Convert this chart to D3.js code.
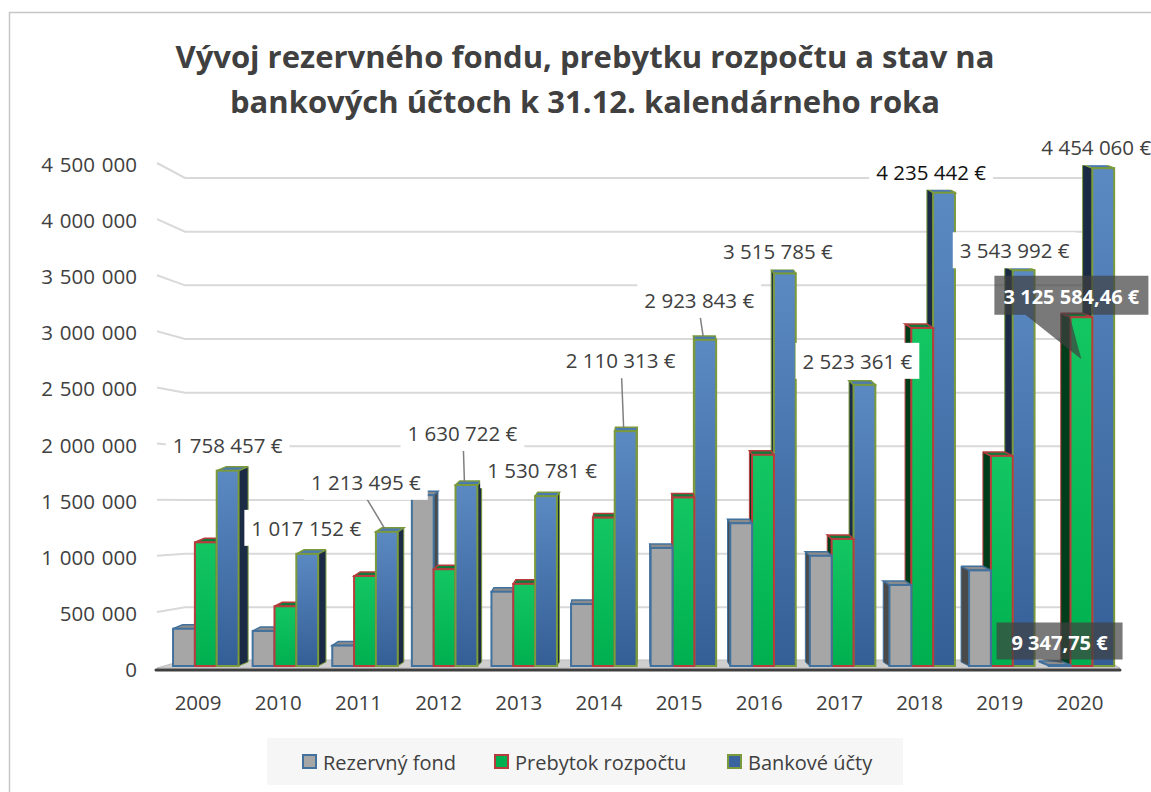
<!DOCTYPE html>
<html lang="sk">
<head>
<meta charset="utf-8">
<title>Vývoj rezervného fondu</title>
<script src="https://cdn.jsdelivr.net/npm/d3@7"></script>
<style>
  body { margin: 0; background: #fff; }
  svg { display: block; font-family: "Open Sans", sans-serif; }
</style>
</head>
<body>
<svg id="chart" width="1151" height="792"></svg>
<script>
// data
var years = ["2009", "2010", "2011", "2012", "2013", "2014", "2015", "2016", "2017", "2018", "2019", "2020"];
var rezervnyFond = [350000, 330000, 200000, 1540000, 680000, 570000, 1070000, 1290000, 1000000, 740000, 870000, 9347.75];
var prebytok = [1120000, 550000, 820000, 880000, 750000, 1340000, 1520000, 1900000, 1150000, 3030000, 1890000, 3125584.46];
var bankoveUcty = [1758457, 1017152, 1213495, 1630722, 1530781, 2110313, 2923843, 3515785, 2523361, 4235442, 3543992, 4454060];
var yTicks = [0, 500000, 1000000, 1500000, 2000000, 2500000, 3000000, 3500000, 4000000, 4500000];
var seriesNames = ["Rezervný fond", "Prebytok rozpočtu", "Bankové účty"];
var titleLines = ["Vývoj rezervného fondu, prebytku rozpočtu a stav na", "bankových účtoch k 31.12. kalendárneho roka"];

// layout of the data labels on the blue bars (offset from bar top)
var labelOffsets = [[0,-26],[-1,-26],[-21,-50],[-4,-52],[-4,-26],[-5,-71],[-6,-40],[-7,-22],[-7,-24],[-13,-21],[-9,-20],[-7,-21]];
var leaderYears = ["2011", "2012", "2014", "2015"];

var series = [rezervnyFond, prebytok, bankoveUcty];
var styles = [
  {fill: "#a6a6a6", stroke: "#41719c", side: "#4a4a4a", cap: "#8c8c8c"},
  {fill: "url(#gGreen)", stroke: "#b83c3c", side: "#003d1b", cap: "#0f7a3a"},
  {fill: "url(#gBlue)", stroke: "#7a9a3c", side: "#1c2b45", cap: "#4b79b1"}
];

var loc = d3.formatLocale({decimal: ",", thousands: " ", grouping: [3], currency: ["", " €"]});
var fmtInt = loc.format(",d");
var fmtDec = loc.format(",.2f");

var svg = d3.select("#chart");
var defs = svg.append("defs");
var gb = defs.append("linearGradient").attr("id", "gBlue").attr("x1", 0).attr("y1", 0).attr("x2", 0).attr("y2", 1);
gb.append("stop").attr("offset", 0).attr("stop-color", "#5b89c2");
gb.append("stop").attr("offset", 1).attr("stop-color", "#345e96");
var gg = defs.append("linearGradient").attr("id", "gGreen").attr("x1", 0).attr("y1", 0).attr("x2", 0).attr("y2", 1);
gg.append("stop").attr("offset", 0).attr("stop-color", "#14c662");
gg.append("stop").attr("offset", 1).attr("stop-color", "#00b050");

// outer chart border
svg.append("rect").attr("x", 9.5).attr("y", 12.5).attr("width", 1160).attr("height", 800)
  .attr("fill", "none").attr("stroke", "#c6c6c6").attr("stroke-width", 1.5);

// title
svg.append("g").selectAll("text").data(titleLines).join("text")
  .attr("x", 585).attr("y", function (d, i) { return 68 + i * 45; })
  .attr("text-anchor", "middle").attr("font-size", 31).attr("font-weight", "bold")
  .attr("fill", "#404040").text(function (d) { return d; });

// scales
var yF = d3.scaleLinear().domain([0, 4500000]).range([668, 163]);   // front (bars, tick labels)
var yB = d3.scaleLinear().domain([0, 4500000]).range([661, 178]);   // back wall (gridlines)
var xLab = d3.scaleBand().domain(years).range([158, 1120]);
var xBars = d3.scaleBand().domain(years).range([166, 1121.2]).paddingInner(0.177).paddingOuter(0.0885);
var xInner = d3.scaleBand().domain([0, 1, 2]).range([0, xBars.bandwidth()]);
var baseY = 666;

// gridlines
svg.append("g").selectAll("path").data(yTicks.slice(1)).join("path")
  .attr("d", function (v) { return "M157," + yF(v) + "L185," + yB(v) + "H1108"; })
  .attr("fill", "none").attr("stroke", "#d9d9d9").attr("stroke-width", 2);

// floor
svg.append("path").attr("d", "M157,668L185,660H1106L1120,668Z").attr("fill", "#cfcfcf").attr("stroke", "#bdbdbd");
svg.append("line").attr("x1", 156).attr("x2", 1120).attr("y1", 670).attr("y2", 670)
  .attr("stroke", "#3f3f3f").attr("stroke-width", 3).attr("stroke-linecap", "round");

// y tick labels
svg.append("g").selectAll("text").data(yTicks).join("text")
  .attr("x", 137).attr("y", function (v) { return yF(v) + 1; })
  .attr("text-anchor", "end").attr("dominant-baseline", "central")
  .attr("font-size", 20.5).attr("word-spacing", 1.5).attr("fill", "#404040")
  .text(function (v) { return fmtInt(v); });

// x labels
svg.append("g").selectAll("text").data(years).join("text")
  .attr("x", function (d) { return xLab(d) + xLab.bandwidth() / 2; }).attr("y", 702)
  .attr("text-anchor", "middle").attr("dominant-baseline", "central")
  .attr("font-size", 20.5).attr("fill", "#404040").text(function (d) { return d; });

// 3D bars
var barsG = svg.append("g");
years.forEach(function (yr, i) {
  var left = xBars(yr);
  var cx = left + xBars.bandwidth() / 2;
  var d = (640 - cx) * 0.022;
  var dy = 4;
  var order = d > 0 ? [0, 1, 2] : [2, 1, 0];
  order.forEach(function (s) {
    var st = styles[s];
    var x0 = left + xInner(s), x1 = x0 + xInner.bandwidth();
    var yt = Math.min(yF(series[s][i]), baseY - 1);
    var g = barsG.append("g");
    var ex = d > 0 ? x1 : x0;
    g.append("path")
      .attr("d", "M" + ex + "," + yt + "L" + (ex + d) + "," + (yt - dy) + "L" + (ex + d) + "," + (baseY - dy) + "L" + ex + "," + baseY + "Z")
      .attr("fill", st.side).attr("stroke", st.stroke).attr("stroke-width", 1);
    g.append("path")
      .attr("d", "M" + x0 + "," + yt + "L" + x1 + "," + yt + "L" + (x1 + d) + "," + (yt - dy) + "L" + (x0 + d) + "," + (yt - dy) + "Z")
      .attr("fill", st.cap).attr("stroke", st.stroke).attr("stroke-width", 1.5);
    g.append("rect").attr("x", x0).attr("y", yt).attr("width", x1 - x0).attr("height", baseY - yt)
      .attr("fill", st.fill).attr("stroke", st.stroke).attr("stroke-width", 2);
  });
});

// data labels of Bankové účty
var labG = svg.append("g");
years.forEach(function (yr, i) {
  var bx = xBars(yr) + xInner(2) + xInner.bandwidth() / 2;
  var top = yF(bankoveUcty[i]);
  var lx = bx + labelOffsets[i][0], ly = top + labelOffsets[i][1];
  if (leaderYears.indexOf(yr) >= 0) {
    labG.append("line").attr("x1", lx + 1).attr("y1", ly + 17).attr("x2", bx - 2).attr("y2", top - 3)
      .attr("stroke", "#7f7f7f").attr("stroke-width", 1.5);
  }
  var g = labG.append("g");
  var rect = g.append("rect").attr("fill", "#fff");
  var t = g.append("text").attr("x", lx).attr("y", ly).attr("text-anchor", "middle")
    .attr("dominant-baseline", "central").attr("font-size", 20.5)
    .attr("fill", yr === "2018" ? "#111" : "#404040").text(fmtInt(bankoveUcty[i]) + " €");
  var w = t.node().getComputedTextLength();
  rect.attr("x", lx - w / 2 - 7).attr("y", ly - 18).attr("width", w + 14).attr("height", 36);
});

// callouts for 2020
function callout(text, cx, cy, w, h, pts) {
  var g = svg.append("g");
  g.append("path").attr("d", "M" + (cx - w / 2) + "," + (cy - h / 2) + "H" + (cx + w / 2) + "V" + (cy + h / 2) +
      "H" + pts[1][0] + "L" + pts[2][0] + "," + pts[2][1] + "L" + pts[0][0] + "," + (cy + h / 2) + "H" + (cx - w / 2) + "Z")
    .attr("fill", "#404040").attr("fill-opacity", 0.7);
  g.append("text").attr("x", cx).attr("y", cy + 1).attr("text-anchor", "middle").attr("dominant-baseline", "central")
    .attr("font-size", 20).attr("font-weight", "bold").attr("fill", "#fff").text(text);
}
var i20 = years.length - 1;
var gx20 = xBars(years[i20]);
var greenTop = yF(prebytok[i20]);
var greenX = gx20 + xInner(1) + xInner.bandwidth() / 2;
callout(fmtDec(prebytok[i20]) + " €", greenX - 10, greenTop - 22, 154, 39,
  [[greenX - 56], [greenX - 12], [greenX, greenTop + 42]]);
var grayX = gx20 + xInner(0) + xInner.bandwidth() / 2;
callout(fmtDec(rezervnyFond[i20]) + " €", grayX, 641, 126, 37,
  [[grayX - 18], [grayX + 2], [grayX + 3, 663]]);

// legend
var lg = svg.append("g");
lg.append("rect").attr("x", 267).attr("y", 738).attr("width", 636).attr("height", 47).attr("fill", "#f6f6f6");
var legX = [303, 495, 728];
var legFill = ["#a6a6a6", "#00b050", "#3a64a0"];
seriesNames.forEach(function (name, s) {
  lg.append("rect").attr("x", legX[s]).attr("y", 755).attr("width", 13).attr("height", 13)
    .attr("fill", legFill[s]).attr("stroke", styles[s].stroke).attr("stroke-width", 2);
  lg.append("text").attr("x", legX[s] + 20).attr("y", 762).attr("dominant-baseline", "central")
    .attr("font-size", 20).attr("fill", "#404040").text(name);
});
</script>
</body>
</html>
